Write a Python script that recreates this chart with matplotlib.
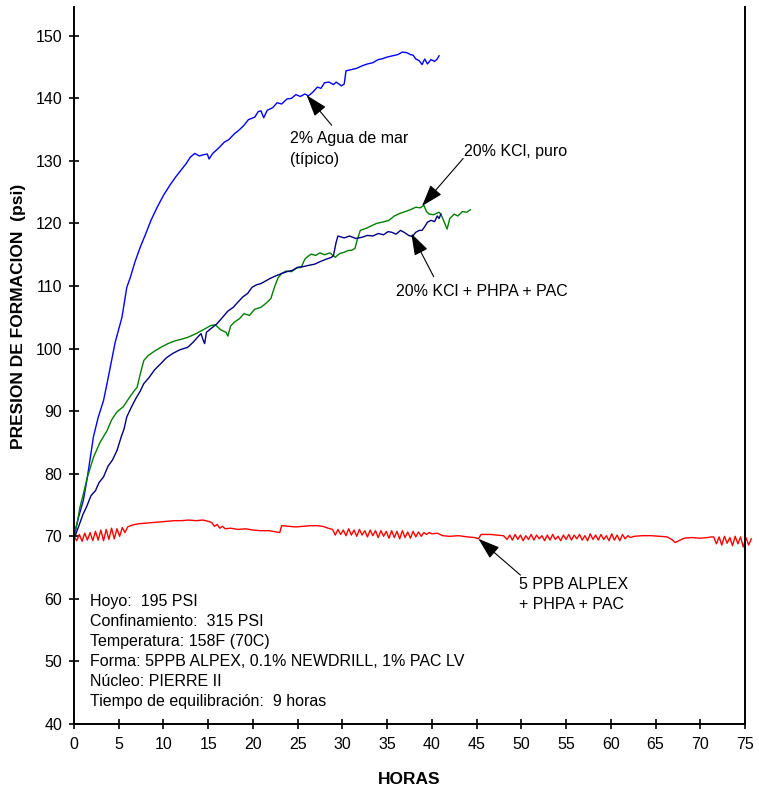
import matplotlib
matplotlib.use('Agg')
import matplotlib.pyplot as plt

plt.rcParams['font.family'] = ['Liberation Sans', 'DejaVu Sans']

# 2% Agua de mar (tipico)
agua_h = [0, 0.5, 1.05, 1.5, 2.17, 2.7, 3.3, 3.7, 4.05, 4.6, 5.36, 5.9, 6.3, 6.8, 7.4, 8.0,
          8.6, 9.3, 10.0, 10.8, 11.4, 12.0, 12.5, 13.0, 13.5, 14.0, 14.5, 14.9, 15.1, 15.5,
          16.2, 16.8, 17.3, 17.9, 18.5, 19.0, 19.5, 20.2, 20.6, 20.9, 21.2, 21.6, 22.2, 22.7,
          23.2, 23.8, 24.3, 24.8, 25.3, 25.8, 26.2, 26.7, 27.2, 27.6, 28.0, 28.5, 29.0, 29.3,
          29.9, 30.2, 30.4, 31.0, 31.6, 32.2, 32.8, 33.4, 34.0, 34.4, 35.0, 35.6, 36.2, 36.7,
          37.2, 37.6, 37.9, 38.2, 38.6, 38.9, 39.2, 39.5, 39.9, 40.3, 40.6, 40.8]
agua_p = [70, 73, 75.8, 79.5, 85.9, 89, 91.7, 94.5, 97, 101, 105, 109.8, 111.4, 113.8, 116.2, 118.3,
          120.5, 122.6, 124.5, 126.3, 127.5, 128.6, 129.5, 130.6, 131.2, 130.8, 131.0, 131.1, 130.3, 131.2,
          132.1, 133.0, 133.4, 134.3, 135.0, 135.7, 136.6, 137.0, 137.9, 138.0, 136.9, 138.1, 138.5, 139.3,
          139.1, 139.9, 140.0, 140.6, 140.3, 140.7, 140.4, 141.0, 141.8, 141.6, 142.5, 142.6, 142.2, 142.6,
          142.0, 142.3, 144.4, 144.6, 144.8, 145.2, 145.5, 145.7, 146.2, 146.3, 146.6, 146.8, 147.0, 147.4,
          147.3, 147.0, 146.9, 146.3, 146.0, 145.4, 146.3, 145.5, 146.2, 145.9, 146.3, 146.8]

# 20% KCl, puro
puro_h = [0, 0.4, 0.67, 1.0, 1.5, 2.2, 2.9, 3.7, 4.2, 4.8, 5.5, 6.2, 6.8, 7.05, 7.4, 7.8, 8.3,
          9.0, 9.7, 10.5, 11.2, 12.0, 12.7, 13.5, 14.3, 15.3, 15.8, 16.4, 17.0, 17.2, 17.5, 17.9,
          18.5, 19.0, 19.6, 20.2, 20.9, 21.5, 22.0, 22.4, 22.8, 23.2, 23.7, 24.3, 24.9, 25.4,
          25.8, 26.1, 26.5, 27.0, 27.5, 28.0, 28.6, 29.2, 29.7, 30.2, 30.7, 31.0, 31.4, 31.7,
          32.0, 32.6, 33.2, 33.8, 34.4, 35.2, 35.8, 36.4, 37.0, 37.6, 38.2, 38.7, 39.1, 39.4,
          39.7, 40.2, 40.8, 41.0, 41.3, 41.7, 42.0, 42.5, 42.9, 43.4, 43.9, 44.3]
puro_p = [69.8, 72.5, 74.7, 76.5, 79.5, 82.7, 85.0, 86.9, 88.6, 89.9, 90.7, 92.2, 93.4, 93.8, 95.9, 98.1, 98.9,
          99.6, 100.2, 100.8, 101.2, 101.5, 101.8, 102.3, 102.9, 103.7, 103.8, 103.0, 102.6, 102.0, 103.6, 104.2,
          104.8, 105.6, 105.3, 106.3, 106.6, 107.3, 108.0, 109.8, 111.3, 112.0, 112.4, 112.3, 112.9, 113.0,
          114.3, 114.7, 115.1, 114.9, 115.3, 115.0, 115.3, 114.6, 115.2, 115.4, 115.7, 115.7, 116.0, 117.6,
          118.9, 119.2, 119.6, 120.0, 120.2, 120.5, 121.2, 121.6, 121.9, 122.2, 122.6, 122.5, 122.9, 121.9,
          121.5, 121.4, 121.8, 121.5, 120.5, 119.1, 120.8, 121.5, 121.2, 121.9, 121.8, 122.2]

# 20% KCl + PHPA + PAC
phpa_h = [0, 0.5, 1.0, 1.4, 1.9, 2.4, 2.8, 3.3, 3.8, 4.3, 4.8, 5.3, 5.6, 5.9, 6.4, 6.9, 7.4, 7.8,
          8.4, 9.0, 9.7, 10.3, 11.0, 11.8, 12.7, 13.3, 13.8, 14.2, 14.4, 14.6, 14.8, 15.3, 16.0,
          16.6, 17.2, 17.8, 18.3, 18.9, 19.4, 19.9, 20.4, 20.9, 21.4, 21.9, 22.5, 23.2, 23.8,
          24.4, 25.0, 25.6, 26.2, 26.9, 27.5, 28.2, 28.8, 29.0, 29.3, 29.5, 30.2, 30.8, 31.5,
          32.2, 32.8, 33.4, 34.0, 34.6, 35.1, 35.5, 36.0, 36.5, 37.0, 37.4, 37.8, 38.2, 38.6,
          38.9, 39.2, 39.5, 39.9, 40.3, 40.6, 40.8, 41.0]
phpa_p = [69.6, 71.5, 73.5, 74.7, 76.5, 77.3, 78.6, 79.5, 81.2, 82.2, 83.7, 86.0, 87.2, 89.1, 90.6, 92.0, 93.2, 94.4,
          95.4, 96.6, 97.6, 98.5, 99.2, 99.8, 100.2, 101.0, 101.8, 102.4, 101.5, 100.8, 102.6, 103.2, 104.0,
          105.0, 106.0, 106.6, 107.4, 108.3, 108.8, 109.8, 110.2, 110.4, 110.8, 111.2, 111.6, 112.0, 112.3,
          112.5, 113.0, 113.1, 113.3, 113.5, 113.9, 114.3, 114.6, 114.9, 117.0, 118.0, 117.7, 118.0, 117.6,
          117.8, 118.1, 118.0, 118.4, 118.2, 118.7, 118.6, 118.3, 118.9, 118.5, 118.1, 117.9, 118.6, 118.9,
          118.9, 119.5, 120.2, 120.5, 120.3, 121.2, 120.8, 121.5]

# 5 PPB ALPLEX + PHPA + PAC
alplex_h = [0.0, 0.3, 0.6, 0.9, 1.2, 1.5, 1.8, 2.1, 2.4, 2.7, 3.0, 3.3, 3.6, 3.9, 4.2, 4.5, 4.8, 5.1, 5.4, 5.7, 6.0,
            6.5, 7.2, 8.0, 8.8, 9.6, 10.4, 11.2, 12.0, 12.8, 13.6, 14.4, 15.0, 15.4, 15.7, 16.0, 16.3, 16.6, 16.9,
            17.5, 18.3, 19.2, 20.0, 20.9, 21.8, 22.6, 23.0, 23.2, 24.0, 24.8, 25.6, 26.4, 27.2, 27.8, 28.4, 28.9,
            29.2, 29.5, 29.8, 30.1, 30.4, 30.7, 31.0, 31.3, 31.6, 31.9, 32.2, 32.5, 32.8, 33.1, 33.4, 33.7, 34.0,
            34.3, 34.6, 34.9, 35.2, 35.5, 35.8, 36.1, 36.4, 36.7, 37.0, 37.3, 37.6, 37.9, 38.2, 38.5, 38.8, 39.1,
            39.4, 39.7, 40.0, 40.6,
            41.2, 42.0, 43.0, 44.0, 44.8, 45.2, 45.5, 46.5, 47.3, 48.0,
            48.4, 48.7, 49.0, 49.3, 49.6, 49.9, 50.2, 50.5, 50.8, 51.1, 51.4, 51.7, 52.0, 52.3, 52.6, 52.9,
            53.2, 53.5, 53.8, 54.1, 54.4, 54.7, 55.0, 55.3, 55.6, 55.9, 56.2, 56.5, 56.8, 57.1, 57.4, 57.7,
            58.0, 58.3, 58.6, 58.9, 59.2, 59.5, 59.8, 60.1, 60.4, 60.7, 61.0, 61.3, 61.6, 61.9, 62.2,
            62.6, 63.5, 64.5, 65.5, 66.3, 66.8, 67.2, 67.6, 68.2, 69.0, 70.0, 70.8, 71.2,
            71.5, 71.8, 72.1, 72.4, 72.7, 73.0, 73.3, 73.6, 73.9, 74.2, 74.5, 74.8, 75.1, 75.4, 75.7]
alplex_p = [70.0, 69.3, 70.3, 69.2, 70.5, 69.4, 70.6, 69.3, 70.8, 69.4, 71.0, 69.3, 71.1, 69.5, 71.3, 69.6, 71.2, 70.0, 71.4, 70.6, 71.5,
            71.8, 72.0, 72.1, 72.2, 72.3, 72.4, 72.5, 72.5, 72.6, 72.5, 72.6, 72.4, 72.2, 71.6, 71.9, 71.3, 71.6, 71.2,
            71.3, 71.1, 71.2, 71.0, 70.9, 70.9, 70.7, 70.6, 71.7, 71.6, 71.5, 71.6, 71.7, 71.7, 71.6, 71.3, 71.1,
            70.2, 71.1, 70.3, 71.0, 70.1, 71.2, 70.2, 71.0, 70.0, 71.1, 70.2, 70.9, 69.9, 71.0, 70.1, 70.9, 69.8,
            70.9, 70.0, 70.8, 69.7, 70.9, 69.8, 70.8, 69.6, 70.9, 69.8, 70.7, 69.7, 70.8, 69.9, 70.7, 70.0, 70.6,
            70.3, 70.6, 70.4, 70.5,
            70.1, 70.0, 70.1, 69.9, 69.8, 69.6, 70.3, 70.3, 70.2, 70.1,
            69.5, 70.2, 69.4, 70.3, 69.5, 70.2, 69.3, 70.1, 69.5, 70.3, 69.4, 70.2, 69.6, 70.1, 69.3, 70.2,
            69.4, 70.3, 69.5, 70.0, 69.3, 70.2, 69.5, 70.3, 69.4, 70.2, 69.6, 70.3, 69.4, 70.1, 69.3, 70.4,
            69.5, 70.2, 69.4, 70.3, 69.5, 70.1, 69.3, 70.4, 69.4, 70.2, 69.3, 70.3, 69.6, 70.1, 69.8,
            70.0, 70.1, 70.1, 70.0, 69.9, 69.5, 69.0, 69.3, 69.7, 69.8, 69.7, 69.8, 69.9,
            69.9, 68.8, 69.9, 68.6, 70.0, 68.9, 69.8, 68.5, 70.0, 68.8, 69.9, 68.3, 69.8, 68.6, 69.6]

info_lines = ["Hoyo:  195 PSI",
              "Confinamiento:  315 PSI",
              "Temperatura: 158F (70C)",
              "Forma: 5PPB ALPEX, 0.1% NEWDRILL, 1% PAC LV",
              "Núcleo: PIERRE II",
              "Tiempo de equilibración:  9 horas"]

fig = plt.figure(figsize=(7.59, 7.88), dpi=100)
ax = fig.add_axes([0.0975, 0.0812, 0.8841, 0.9099])

ax.plot(agua_h, agua_p, color='#0000FF', lw=1.0)
ax.plot(puro_h, puro_p, color='#008000', lw=1.0)
ax.plot(phpa_h, phpa_p, color='#000080', lw=1.0)
ax.plot(alplex_h, alplex_p, color='#FF0000', lw=1.0, clip_on=False)

ax.set_xlim(0, 75)
ax.set_ylim(40, 154.6)
ax.set_xticks(range(0, 76, 5))
ax.set_yticks(range(40, 151, 10))

ax.spines['top'].set_visible(False)
for s in ['left', 'right', 'bottom']:
    ax.spines[s].set_linewidth(1.4)
ax.tick_params(axis='both', direction='inout', length=7, width=1.2, labelsize=11.5)
ax.tick_params(axis='x', pad=6)
ax.tick_params(axis='y', pad=5)

ax.set_xlabel("HORAS", fontsize=12.5, fontweight='bold')
ax.set_ylabel("PRESION DE FORMACION  (psi)", fontsize=12.5, fontweight='bold')
ax.xaxis.set_label_coords(0.499, -0.067)
ax.yaxis.set_label_coords(-0.072, 0.568)

arrow = dict(arrowstyle='-|>,head_length=0.9,head_width=0.3', color='black', lw=0.8,
             mutation_scale=15, shrinkA=0, shrinkB=0)

ax.annotate('', xy=(26.0, 140.5), xytext=(28.8, 135.7), arrowprops=arrow)
ax.text(24.1, 131.9, "2% Agua de mar\n(típico)", fontsize=11.5, ha='left', va='center', linespacing=1.45)

ax.annotate('', xy=(38.9, 122.8), xytext=(43.5, 130.4), arrowprops=arrow)
ax.text(43.6, 131.5, "20% KCl, puro", fontsize=11.5, ha='left', va='center')

ax.annotate('', xy=(37.7, 118.4), xytext=(40.2, 111.5), arrowprops=arrow)
ax.text(36.0, 109.1, "20% KCl + PHPA + PAC", fontsize=11.5, ha='left', va='center')

ax.annotate('', xy=(45.2, 69.6), xytext=(49.9, 63.8), arrowprops=arrow)
ax.text(49.7, 60.7, "5 PPB ALPLEX\n+ PHPA + PAC", fontsize=11.5, ha='left', va='center', linespacing=1.45)

ax.text(1.8, 51.6, "\n".join(info_lines), fontsize=11.5, ha='left', va='center', linespacing=1.42)

fig.savefig('out.png', dpi=100)
